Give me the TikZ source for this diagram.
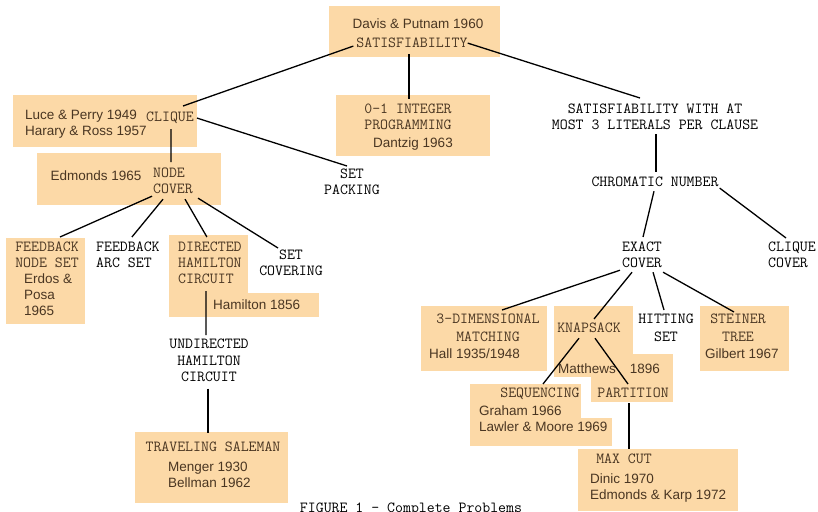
\documentclass[tikz,border=0pt]{standalone}
\usepackage{fontspec}
\setsansfont{Liberation Sans}

\definecolor{boxfill}{RGB}{252,217,167}
\definecolor{boxink}{RGB}{74,54,34}

\tikzset{
  prob/.style={font=\ttfamily\addfontfeature{FakeBold=0.6}\fontsize{15.4}{16}\selectfont, inner sep=0pt, align=center, anchor=north},
  probl/.style={prob, align=left, anchor=north west},
  cite/.style={font=\sffamily\fontsize{13.5}{16}\selectfont, inner sep=0pt, align=left, anchor=north west, text=boxink},
  boxed/.style={text=boxink},
  edge/.style={line width=1.3pt, black},
}

\begin{document}
\begin{tikzpicture}[x=1pt,y=-1pt]
  \path[use as bounding box] (0,0) rectangle (818,511);
  \clip (0,0) rectangle (818,511);
  \fill[white] (0,0) rectangle (818,511);

  % shaded boxes
  \fill[boxfill] (329,6) rectangle (500,57);
  \fill[boxfill] (13,95) rectangle (197,147);
  \fill[boxfill] (37,153) rectangle (221,205);
  \fill[boxfill] (336,95) rectangle (490,156);
  \fill[boxfill] (6,238) rectangle (85,324);
  \fill[boxfill] (169,235) rectangle (248,317);
  \fill[boxfill] (205,293) rectangle (319,317);
  \fill[boxfill] (135,432) rectangle (288,503);
  \fill[boxfill] (421,306) rectangle (547,371);
  \fill[boxfill] (554,306) rectangle (633,377);
  \fill[boxfill] (591,354) rectangle (673,402);
  \fill[boxfill] (470,384) rectangle (581,446);
  \fill[boxfill] (470,418) rectangle (612,446);
  \fill[boxfill] (700,306) rectangle (789,371);
  \fill[boxfill] (578,449) rectangle (738,511);

  % problems
  \node[prob, boxed] (sat) at (412,38) {SATISFIABILITY};
  \node[prob, boxed] (clique) at (170,112) {CLIQUE};
  \node[probl, boxed] (nc) at (153,168) {NODE\\COVER};
  \node[prob, boxed] (ip) at (408,104) {0-1 INTEGER\\PROGRAMMING};
  \node[prob] (sp) at (352,169) {SET\\PACKING};
  \node[prob] (sat3) at (655,104) {SATISFIABILITY WITH AT\\MOST 3 LITERALS PER CLAUSE};
  \node[prob] (chrom) at (655,177) {CHROMATIC NUMBER};
  \node[prob, boxed] (fns) at (47,242) {FEEDBACK\\NODE SET};
  \node[probl] (fas) at (96,242) {FEEDBACK\\ARC SET};
  \node[probl, boxed] (dhc) at (178,242) {DIRECTED\\HAMILTON\\CIRCUIT};
  \node[prob] (sc) at (291,250) {SET\\COVERING};
  \node[prob] (uhc) at (209,339) {UNDIRECTED\\[0.5pt]HAMILTON\\CIRCUIT};
  \node[prob, boxed] (ts) at (213,442) {TRAVELING SALEMAN};
  \node[probl] (ec) at (622,242) {EXACT\\COVER};
  \node[probl] (cc) at (768,242) {CLIQUE\\COVER};
  \node[prob, boxed] (tdm) at (488,314) {3-DIMENSIONAL\\[2pt]MATCHING};
  \node[prob, boxed] (ks) at (589,323) {KNAPSACK};
  \node[prob] (hs) at (666,314) {HITTING\\[2pt]SET};
  \node[prob, boxed] (st) at (738,314) {STEINER\\[2pt]TREE};
  \node[prob, boxed] (seq) at (540,388) {SEQUENCING};
  \node[prob, boxed] (part) at (633,388) {PARTITION};
  \node[prob, boxed] (mc) at (624,454) {MAX CUT};
  \node[prob] (fig) at (411,503) {FIGURE 1 - Complete Problems};

  % who showed it
  \node[cite, anchor=north] (dp) at (418,19) {Davis \& Putnam 1960};
  \node[cite] (lp) at (25,110) {Luce \& Perry 1949\\Harary \& Ross 1957};
  \node[cite, anchor=north] (edm) at (96,171) {Edmonds 1965};
  \node[cite, anchor=north] (dz) at (413,138) {Dantzig 1963};
  \node[cite] (ep) at (24,274) {Erdos \&\\Posa\\1965};
  \node[cite] (ham) at (213,300) {Hamilton 1856};
  \node[cite] (mb) at (168,462) {Menger 1930\\Bellman 1962};
  \node[cite] (hall) at (429,349) {Hall 1935/1948};
  \node[cite] (mat) at (558,364) {Matthews\hspace{14pt}1896};
  \node[cite] (gl) at (479,406) {Graham 1966\\Lawler \& Moore 1969};
  \node[cite] (gil) at (705,349) {Gilbert 1967};
  \node[cite] (de) at (590,474) {Dinic 1970\\Edmonds \& Karp 1972};

  % reductions
  \draw[edge] ([shift={(-3,3)}]sat.west) -- ([shift={(13,-6)}]clique.north);
  \draw[edge] ([shift={(-3,6)}]sat.south) -- ([shift={(1,-5)}]ip.north);
  \draw[edge] (sat.east) -- ([shift={(-15,-6)}]sat3.north);
  \draw[edge] ([shift={(1,5)}]clique.south) -- ([shift={(-2,-6)}]nc.north);
  \draw[edge] ([shift={(3,0)}]clique.east) -- ([shift={(-5,-3)}]sp.north);
  \draw[edge] ([shift={(-1,2)}]nc.south west) -- ([shift={(13,-5)}]fns.north);
  \draw[edge] ([shift={(-10,5)}]nc.south) -- ([shift={(4,-5)}]fas.north);
  \draw[edge] ([shift={(12,5)}]nc.south) -- ([shift={(-3,-5)}]dhc.north);
  \draw[edge] ([shift={(5,4)}]nc.south east) -- ([shift={(-13,-2)}]sc.north);
  \draw[edge] ([shift={(-4,7)}]dhc.south) -- ([shift={(-3,-4)}]uhc.north);
  \draw[edge] ([shift={(-1,7)}]uhc.south) -- ([shift={(-5,-9)}]ts.north);
  \draw[edge] ([shift={(1,4)}]sat3.south) -- ([shift={(1,-5)}]chrom.north);
  \draw[edge] ([shift={(-1,4)}]chrom.south) -- ([shift={(1,-5)}]ec.north);
  \draw[edge] ([shift={(1,6)}]chrom.east) -- ([shift={(-6,-4)}]cc.north);
  \draw[edge] ([shift={(-2,2)}]ec.south west) -- ([shift={(14,-4)}]tdm.north);
  \draw[edge] ([shift={(-10,4)}]ec.south) -- ([shift={(5,-4)}]ks.north);
  \draw[edge] ([shift={(11,4)}]ec.south) -- ([shift={(-2,-4)}]hs.north);
  \draw[edge] ([shift={(1,4)}]ec.south east) -- ([shift={(-4,-2)}]st.north);
  \draw[edge] ([shift={(-10,5)}]ks.south) -- ([shift={(3,-4)}]seq.north);
  \draw[edge] ([shift={(6,5)}]ks.south) -- ([shift={(-5,-4)}]part.north);
  \draw[edge] ([shift={(-4,5)}]part.south) -- ([shift={(5,-5)}]mc.north);
\end{tikzpicture}
\end{document}
